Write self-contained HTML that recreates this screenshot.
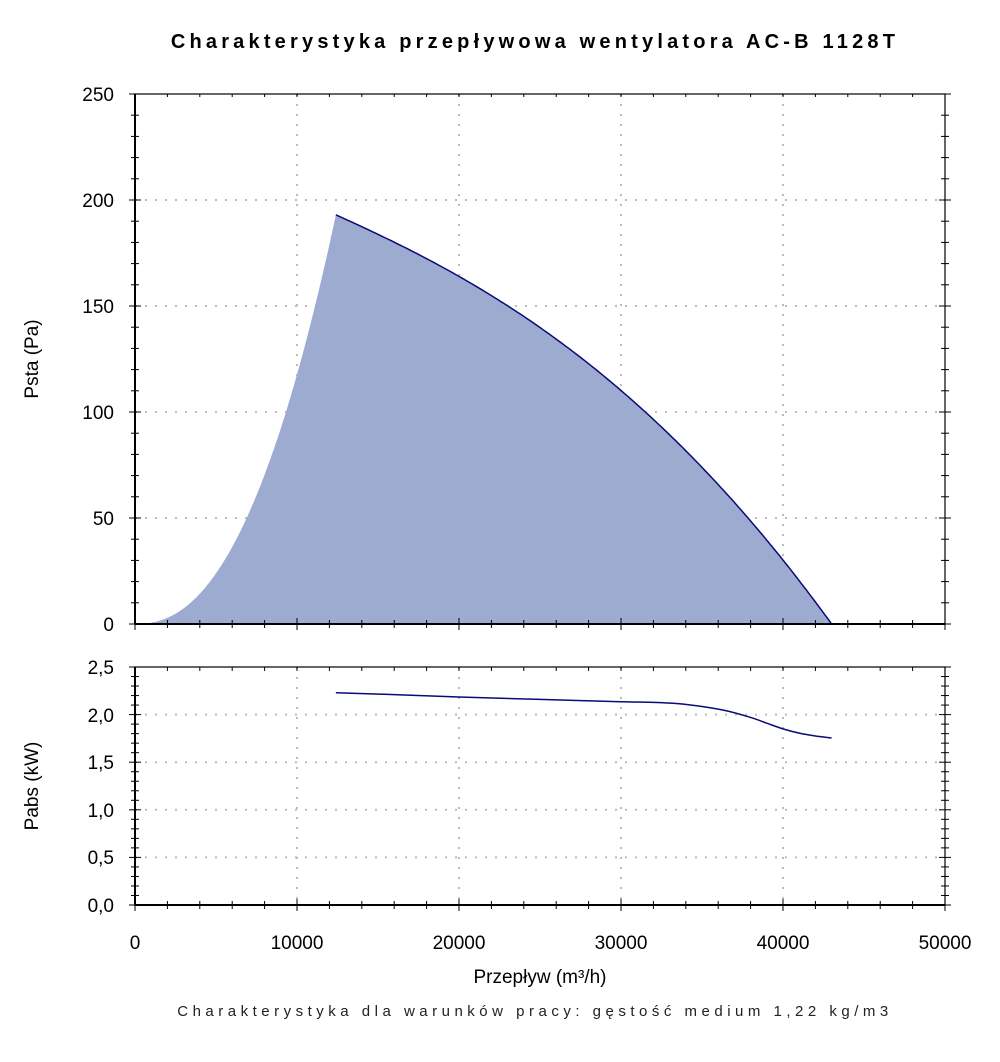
<!DOCTYPE html>
<html><head><meta charset="utf-8"><style>
html,body{margin:0;padding:0;background:#fff;}
svg{display:block;font-family:"Liberation Sans","DejaVu Sans",sans-serif;}
</style></head><body>
<svg id="s" width="1000" height="1062" viewBox="0 0 1000 1062" xmlns="http://www.w3.org/2000/svg">
<text x="535" y="48" text-anchor="middle" font-size="20" font-weight="bold" letter-spacing="4.2" fill="#000">Charakterystyka przepływowa wentylatora AC-B 1128T</text>
<g id="grid" stroke="#bbb" stroke-width="2" stroke-dasharray="2,8"></g>
<path id="fill" fill="#9eabd0" stroke="none"/>
<path id="line" fill="none" stroke="#0a0a7a" stroke-width="1.5"/>
<path id="pline" fill="none" stroke="#0a0a7a" stroke-width="1.5"/>
<g id="axes" stroke="#000" fill="none"></g>
<g font-size="19" fill="#000" text-anchor="end">
<text x="114" y="101">250</text><text x="114" y="207">200</text><text x="114" y="313">150</text>
<text x="114" y="419">100</text><text x="114" y="525">50</text><text x="114" y="631">0</text>
<text x="114" y="674">2,5</text><text x="114" y="722">2,0</text><text x="114" y="769">1,5</text>
<text x="114" y="817">1,0</text><text x="114" y="864">0,5</text><text x="114" y="912">0,0</text>
</g>
<g font-size="19" fill="#000" text-anchor="middle">
<text x="135" y="949">0</text><text x="297" y="949">10000</text><text x="459" y="949">20000</text>
<text x="621" y="949">30000</text><text x="783" y="949">40000</text><text x="945" y="949">50000</text>
<text x="540" y="983">Przepływ (m³/h)</text>
</g>
<text x="535" y="1016" text-anchor="middle" font-size="15" letter-spacing="4.5" fill="#222">Charakterystyka dla warunków pracy: gęstość medium 1,22 kg/m3</text>
<text transform="translate(38,359) rotate(-90)" text-anchor="middle" font-size="19">Psta (Pa)</text>
<text transform="translate(38,786) rotate(-90)" text-anchor="middle" font-size="19">Pabs (kW)</text>
</svg>
<script>
var NS="http://www.w3.org/2000/svg";
function X(v){return 135+v*0.0162;}
function Y1(p){return 624-p*2.12;}
function Y2(k){return 905-k*95.2;}
function el(p,t,a){var e=document.createElementNS(NS,t);for(var k in a)e.setAttribute(k,a[k]);p.appendChild(e);return e;}
var g=document.getElementById('grid'),ax=document.getElementById('axes');
for(var v=10000;v<50000;v+=10000){el(g,'line',{x1:X(v),y1:94,x2:X(v),y2:624});el(g,'line',{x1:X(v),y1:667,x2:X(v),y2:905});}
for(var p=50;p<=200;p+=50)el(g,'line',{x1:135,y1:Y1(p),x2:945,y2:Y1(p)});
for(var k=0.5;k<=2.01;k+=0.5)el(g,'line',{x1:135,y1:Y2(k),x2:945,y2:Y2(k)});
var pts=[];
for(var q=0;q<=12400;q+=100){pts.push([q,193*Math.pow(q/12400,2.3)]);}
var dn=[];
for(var q=12400;q<=43000;q+=200){var t=(q-12400)/(43000-12400);dn.push([q,193*(1-0.55*t-0.45*Math.pow(t,2.5))]);}
pts=pts.concat(dn.slice(1));
var d=pts.map(function(a,i){return (i?'L':'M')+X(a[0]).toFixed(1)+','+Y1(a[1]).toFixed(1);}).join(' ');
document.getElementById('fill').setAttribute('d',d+' L'+X(43000)+',624 Z');
var dl=dn.map(function(a,i){return (i?'L':'M')+X(a[0]).toFixed(1)+','+Y1(a[1]).toFixed(1);}).join(' ')+' L945,624';
document.getElementById('line').setAttribute('d',dl);
var pw=[[12400,2.23],[16000,2.21],[20000,2.185],[25000,2.16],[30000,2.135],[32000,2.128],[33500,2.115],[35000,2.085],[36500,2.04],[38000,1.97],[39000,1.91],[40000,1.85],[41000,1.805],[42000,1.775],[43000,1.755]];
function cr(p){var s='M'+X(p[0][0])+','+Y2(p[0][1]);for(var i=0;i<p.length-1;i++){var p0=p[i-1]||p[i],p1=p[i],p2=p[i+1],p3=p[i+2]||p2;
var a=[X(p0[0]),Y2(p0[1])],b=[X(p1[0]),Y2(p1[1])],c=[X(p2[0]),Y2(p2[1])],e=[X(p3[0]),Y2(p3[1])];
s+=' C'+(b[0]+(c[0]-a[0])/6)+','+(b[1]+(c[1]-a[1])/6)+' '+(c[0]-(e[0]-b[0])/6)+','+(c[1]-(e[1]-b[1])/6)+' '+c[0]+','+c[1];}return s;}
document.getElementById('pline').setAttribute('d',cr(pw));
el(ax,'rect',{x:135,y:94,width:810,height:530,'stroke-width':1.2});
el(ax,'rect',{x:135,y:667,width:810,height:238,'stroke-width':1.2});
el(ax,'line',{x1:135,y1:624,x2:945,y2:624,'stroke-width':2});
el(ax,'line',{x1:135,y1:905,x2:945,y2:905,'stroke-width':2});
el(ax,'line',{x1:135,y1:94,x2:135,y2:624,'stroke-width':2});
el(ax,'line',{x1:135,y1:667,x2:135,y2:905,'stroke-width':2});
for(var v=0;v<=50000;v+=2000){var x=X(v),big=v%10000==0;
 el(ax,'line',{x1:x,y1:624-(big?6:4),x2:x,y2:624+(big?6:4)});
 el(ax,'line',{x1:x,y1:905-(big?6:4),x2:x,y2:905+(big?6:4)});
 el(ax,'line',{x1:x,y1:94,x2:x,y2:97});el(ax,'line',{x1:x,y1:667,x2:x,y2:671});}
for(var p=0;p<=250;p+=10){var y=Y1(p),big=p%50==0;
 el(ax,'line',{x1:135-(big?6:4),y1:y,x2:135+(big?6:4),y2:y});
 el(ax,'line',{x1:945-(big?6:4),y1:y,x2:945+(big?6:4),y2:y});}
for(var i=0;i<=25;i++){var y=Y2(i/10),big=i%5==0;
 el(ax,'line',{x1:135-(big?6:4),y1:y,x2:135+(big?6:4),y2:y});
 el(ax,'line',{x1:945-(big?6:4),y1:y,x2:945+(big?6:4),y2:y});}
</script>
</body></html>
